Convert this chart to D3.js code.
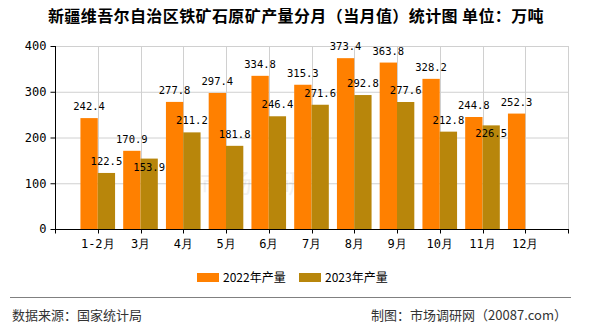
<!DOCTYPE html>
<html><head><meta charset="utf-8">
<script src="https://cdn.jsdelivr.net/npm/d3@7"></script>
<style>body{margin:0;background:#fff;}svg{display:block;}</style>
</head><body>
<svg id="c" width="590" height="330"></svg>
<script>
const categories = ["1-2月","3月","4月","5月","6月","7月","8月","9月","10月","11月","12月"];
const series2022 = [242.4,170.9,277.8,297.4,334.8,315.3,373.4,363.8,328.2,244.8,252.3];
const series2023 = [122.5,153.9,211.2,181.8,246.4,271.6,292.8,277.6,212.8,226.5,null];
const seriesNames = ["2022年产量","2023年产量"];
const colors = ["#FF8000","#B8860B"];
const yTicks = [0,100,200,300,400];

const svg = d3.select("#c");
const L=55, R=568, T=46, B=229;
const x = d3.scaleLinear().domain([0,12]).range([L,R]);
const y = d3.scaleLinear().domain([0,400]).range([B,T]);
const bw = (x(1)-x(0))*0.405;
const mono = "'DejaVu Sans Mono', monospace";
const cjk = "'Noto Sans CJK SC', sans-serif";

// title
svg.append("text").attr("x",296).attr("y",22).attr("text-anchor","middle")
  .attr("font-family",cjk).attr("font-size",16).attr("font-weight","bold").attr("fill","#000")
  .attr("letter-spacing","0.4")
  .text("新疆维吾尔自治区铁矿石原矿产量分月（当月值）统计图 单位：万吨");

// grid
const g = svg.append("g");
g.selectAll(".hg").data(yTicks.slice(1)).join("line")
  .attr("x1",L).attr("x2",R).attr("y1",d=>y(d)+0.5).attr("y2",d=>y(d)+0.5)
  .attr("stroke","#d0d0d0");
g.selectAll(".vg").data(d3.range(1,13)).join("line")
  .attr("x1",d=>Math.round(x(d))+0.5).attr("x2",d=>Math.round(x(d))+0.5).attr("y1",T).attr("y2",B)
  .attr("stroke","#d0d0d0");

// faint watermark
svg.append("text").attr("x",265).attr("y",193).attr("text-anchor","middle")
  .attr("font-family",cjk).attr("font-size",26).attr("fill","#000").attr("opacity",0.05)
  .text("市场调研网");

// bars
const bars = svg.append("g");
categories.forEach((c,i)=>{
  const cx = x(i+1);
  [series2022[i],series2023[i]].forEach((v,k)=>{
    if(v==null) return;
    const x0 = k===0 ? cx-bw : cx;
    bars.append("rect").attr("x",x0).attr("y",y(v)).attr("width",bw).attr("height",B-y(v))
      .attr("fill",colors[k]);
  });
});
// labels (2023 label moves inside bar top when it would collide with 2022 label)
categories.forEach((c,i)=>{
  const cx = x(i+1);
  const a = series2022[i], b = series2023[i];
  const ya = y(a)-8;
  svg.append("text").attr("x",cx-bw/2).attr("y",ya).attr("text-anchor","middle")
    .attr("font-family",mono).attr("font-size",10.5).attr("fill","#000").text(a.toFixed(1));
  if(b!=null){
    let yb = y(b)-8;
    if(Math.abs(yb-ya) < 12) yb = y(b)+12;
    svg.append("text").attr("x",cx+bw/2).attr("y",yb).attr("text-anchor","middle")
      .attr("font-family",mono).attr("font-size",10.5).attr("fill","#000").text(b.toFixed(1));
  }
});

// axes
const yAxis = d3.axisLeft(y).tickValues(yTicks).tickSize(5).tickPadding(4);
const yg = svg.append("g").attr("transform",`translate(${L+0.5},0)`).call(yAxis);
yg.select(".domain").attr("stroke","#000").attr("d",`M-0,${T}V${B}`);
yg.selectAll("text").attr("font-family",mono).attr("font-size",12).attr("fill","#000");
yg.selectAll(".tick line").attr("stroke","#000");

const xa = svg.append("g").attr("transform",`translate(0,${B+0.5})`);
xa.append("line").attr("x1",L).attr("x2",R+1).attr("stroke","#000");
xa.selectAll(".t").data(d3.range(0,13)).join("line")
  .attr("x1",d=>Math.round(x(d))+0.5).attr("x2",d=>Math.round(x(d))+0.5).attr("y1",0).attr("y2",4)
  .attr("stroke","#000");
xa.selectAll(".lab").data(categories).join("text")
  .attr("x",(d,i)=>x(i+1)).attr("y",18).attr("text-anchor","middle")
  .attr("font-family",mono).attr("font-size",12).attr("fill","#000").text(d=>d);

// legend
const lg = svg.append("g");
const lx = [197,299];
seriesNames.forEach((n,k)=>{
  lg.append("rect").attr("x",lx[k]).attr("y",273).attr("width",22).attr("height",9).attr("fill",colors[k]);
  lg.append("text").attr("x",lx[k]+26).attr("y",282).attr("font-family",cjk).attr("font-size",12)
    .attr("fill","#000").text(n);
});

// footer
svg.append("line").attr("x1",10).attr("x2",571).attr("y1",297.5).attr("y2",297.5).attr("stroke","#808080");
svg.append("text").attr("x",12).attr("y",320).attr("font-family",cjk).attr("font-size",13).attr("fill","#333")
  .text("数据来源：国家统计局");
svg.append("text").attr("x",567).attr("y",320).attr("text-anchor","end").attr("font-family",cjk).attr("font-size",13).attr("fill","#333")
  .text("制图：市场调研网（20087.com）");
</script>
</body></html>
